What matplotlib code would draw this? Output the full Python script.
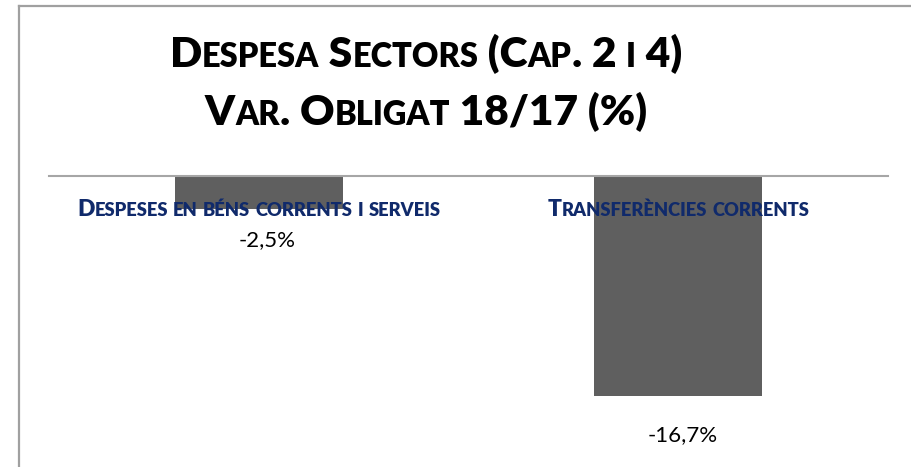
import itertools
import matplotlib
matplotlib.use('Agg')
import matplotlib.pyplot as plt
from matplotlib.lines import Line2D
from matplotlib.offsetbox import TextArea, HPacker, AnnotationBbox

# chart data
categories = ['Despeses en béns corrents i serveis', 'Transferències corrents']
values = [-2.5, -16.7]
value_labels = ['-2,5%', '-16,7%']
title_lines = ['Despesa Sectors (Cap. 2 i 4)', 'Var. Obligat 18/17 (%)']

FONT = 'Lato'
BAR_COLOR = '#5f5f5f'
LABEL_COLOR = '#102a6b'
GRID_GRAY = '#a6a6a6'
PX = 72 / 100  # points per pixel at dpi 100

# label offsets in pixels (x, y) from the bar end
label_offsets = [(8, -31), (4, -39)]


def small_caps(text, size, color, weight='bold', ratio=0.78):
    # fake small caps: lowercase runs become smaller capitals
    parts = []
    for low, grp in itertools.groupby(text, key=str.islower):
        s = ''.join(grp)
        fs = size * ratio if low else size
        parts.append(TextArea(s.upper(), textprops=dict(
            fontsize=fs, color=color, fontweight=weight, family=FONT)))
    return HPacker(children=parts, align='baseline', pad=0, sep=0)


fig = plt.figure(figsize=(9.12, 4.67), dpi=100)
W, H = 912, 467

# outer chart frame (cropped at right and bottom)
fig.add_artist(Line2D([19 / W, 19 / W], [0, 1 - 6 / H], color='#a0a0a0', lw=1.6))
fig.add_artist(Line2D([19 / W, 1], [1 - 6 / H, 1 - 6 / H], color='#a0a0a0', lw=1.6))

ax = fig.add_axes([49 / W, 7 / H, 839 / W, 284 / H])
x = range(len(values))
ax.bar(x, values, width=0.4, color=BAR_COLOR, zorder=2)
ax.axhline(0, color=GRID_GRAY, lw=1.5, zorder=3, clip_on=False)
ax.set_xlim(-0.5, 1.5)
ax.set_ylim(-284 / 13.17, 0)
ax.axis('off')

# category labels just below the zero line
for xi, cat in zip(x, categories):
    ab = AnnotationBbox(small_caps(cat, 16.5, LABEL_COLOR, weight='heavy', ratio=0.8), (xi, 0),
                        xybox=(0, -34 * PX), boxcoords='offset points',
                        frameon=False, box_alignment=(0.5, 0.5), zorder=5)
    ax.add_artist(ab)

# value labels under each bar
for xi, v, lab, off in zip(x, values, value_labels, label_offsets):
    ax.annotate(lab, (xi, v), xytext=(off[0] * PX, off[1] * PX), textcoords='offset points',
                ha='center', va='center', fontsize=16, family=FONT,
                color='black', annotation_clip=False)

# two line title
for i, line in enumerate(title_lines):
    ab = AnnotationBbox(small_caps(line, 30.5, 'black', weight='heavy', ratio=0.77),
                        (426 / W, 1 - (54 + 58 * i) / H),
                        xycoords='figure fraction', frameon=False,
                        box_alignment=(0.5, 0.5))
    fig.add_artist(ab)

fig.savefig('out.png', dpi=100)
